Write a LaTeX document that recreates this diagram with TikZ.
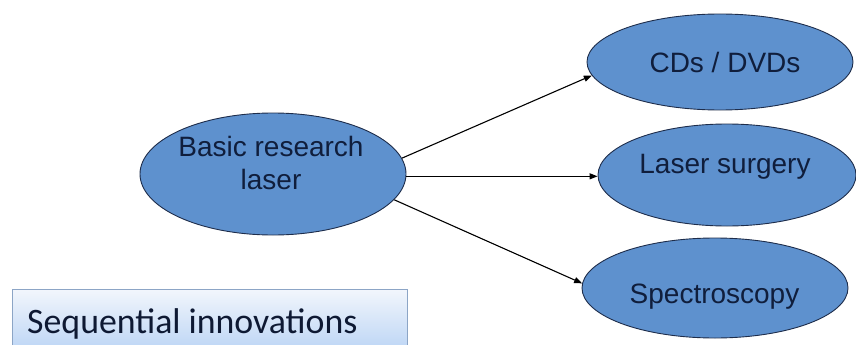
\documentclass[tikz,border=0pt]{standalone}
\usepackage{fontspec}
\setmainfont{Liberation Sans}
\newfontfamily\boxfont{Carlito}
\usetikzlibrary{shapes.geometric,arrows.meta}
\definecolor{ellfill}{RGB}{94,145,206}
\definecolor{elldraw}{RGB}{30,45,75}
\definecolor{txtnavy}{RGB}{16,30,60}
\definecolor{boxtop}{RGB}{242,246,252}
\definecolor{boxbot}{RGB}{180,208,244}
\definecolor{boxdraw}{RGB}{140,165,198}
\tikzset{
  oval/.style={ellipse, draw=elldraw, fill=ellfill, line width=0.9pt, inner sep=0pt},
  lbl/.style={text=txtnavy, font=\fontsize{28}{33}\selectfont, align=center, inner sep=0pt},
  link/.style={line width=1.1pt, -{Triangle[length=8pt,width=6pt]}},
}
\begin{document}
\begin{tikzpicture}[x=1pt,y=-1pt]
\useasboundingbox (0,0) rectangle (856,345);
% text box
\shade[top color=boxtop, bottom color=boxbot, draw=boxdraw, line width=1pt]
  (12,289) rectangle (407,360);
\node[anchor=base west, inner sep=0pt, text=txtnavy!85!black,
  font=\boxfont\fontsize{35.8}{40}\selectfont] (seq) at (27,333) {Sequential innovations};
% ellipses
\node[oval, minimum width=266pt, minimum height=122pt] (basic) at (273,174) {};
\node[oval, minimum width=266pt, minimum height=96pt] (cds) at (720,62) {};
\node[oval, minimum width=258pt, minimum height=102pt] (surg) at (727,175) {};
\node[oval, minimum width=266pt, minimum height=100pt] (spec) at (715,288) {};
% labels
\node[lbl] (basict) at (271,163) {Basic research\\laser};
\node[lbl, anchor=base] (cdst) at (725,73) {CDs / DVDs};
\node[lbl, anchor=base] (surgt) at (725,173) {Laser surgery};
\node[lbl, anchor=base] (spect) at (714.5,303) {Spectroscopy};
% connectors
\draw[link] (basic.7) -- (cds.186);
\draw[link] (basic.-1) -- (surg.west |- basic.-1);
\draw[link] (basic.-12) -- (spec.178);
\end{tikzpicture}
\end{document}
